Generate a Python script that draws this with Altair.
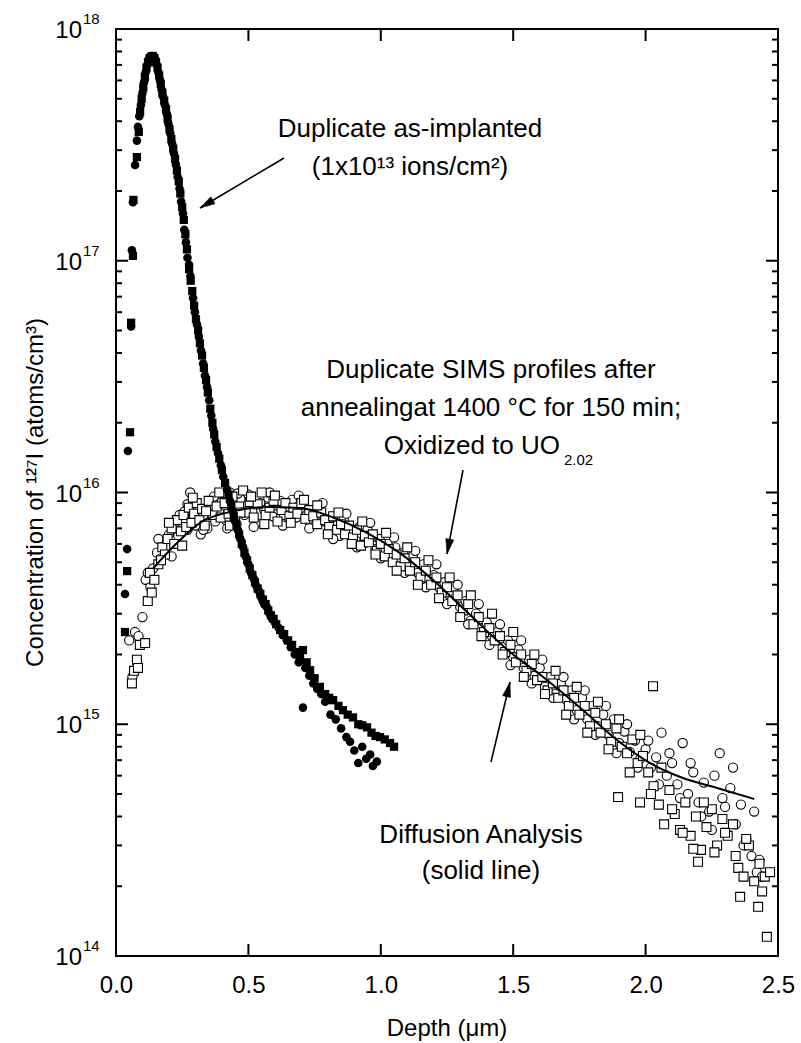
import math
import altair as alt
import pandas as pd

FONT = "Liberation Sans"
W, H = 662, 927

# ---------------- data ----------------
# As-implanted, filled circles
imp_c_depth = [0.034, 0.042, 0.045, 0.057, 0.060, 0.064, 0.072, 0.079, 0.083, 0.088, 0.094, 0.100,
               0.106, 0.112, 0.118, 0.124, 0.130, 0.136, 0.142, 0.148, 0.154, 0.160, 0.166, 0.172,
               0.178, 0.185, 0.192, 0.198, 0.205, 0.212, 0.219, 0.226, 0.233, 0.240, 0.246, 0.253,
               0.258, 0.264, 0.270, 0.276, 0.281, 0.291, 0.298, 0.306, 0.313, 0.321, 0.329, 0.336,
               0.344, 0.352, 0.360, 0.367, 0.375, 0.385, 0.396, 0.405, 0.419, 0.430, 0.440, 0.450,
               0.460, 0.470, 0.480, 0.490, 0.500, 0.510, 0.520, 0.530, 0.540, 0.550, 0.560, 0.570,
               0.580, 0.590, 0.600, 0.615, 0.630, 0.645, 0.660, 0.675, 0.690, 0.706, 0.715, 0.730,
               0.745, 0.760, 0.775, 0.790, 0.810, 0.830, 0.850, 0.870, 0.884, 0.900, 0.915, 0.930,
               0.945, 0.960, 0.970, 0.985]
imp_c_conc = [3.65e15, 5.7e15, 1.51e16, 5.2e16, 1.11e17, 1.79e17, 2.59e17, 3.3e17, 3.78e17, 4.2e17, 4.7e17, 5.3e17,
              5.9e17, 6.5e17, 7.0e17, 7.4e17, 7.6e17, 7.65e17, 7.6e17, 7.4e17, 7.0e17, 6.5e17, 6.0e17, 5.5e17,
              5.1e17, 4.7e17, 4.3e17, 3.9e17, 3.55e17, 3.2e17, 2.9e17, 2.6e17, 2.3e17, 2.05e17, 1.8e17, 1.6e17,
              1.36e17, 1.2e17, 1.03e17, 9.6e16, 8.6e16, 6.9e16, 6.0e16, 5.3e16, 4.7e16, 4.1e16, 3.6e16, 3.2e16,
              2.85e16, 2.5e16, 2.15e16, 1.88e16, 1.66e16, 1.48e16, 1.31e16, 1.17e16, 1.03e16, 9.2e15, 8.3e15, 7.5e15,
              6.9e15, 6.3e15, 5.8e15, 5.3e15, 4.9e15, 4.5e15, 4.25e15, 3.95e15, 3.75e15, 3.5e15, 3.3e15, 3.2e15,
              3.0e15, 2.85e15, 2.75e15, 2.6e15, 2.42e15, 2.3e15, 2.15e15, 2.0e15, 1.85e15, 1.18e15, 1.75e15, 1.62e15,
              1.5e15, 1.42e15, 1.35e15, 1.25e15, 1.1e15, 1.05e15, 9.6e14, 8.8e14, 8.4e14, 7.7e14, 6.8e14, 8.0e14,
              7.1e14, 7.4e14, 6.6e14, 6.9e14]

# As-implanted, filled squares
imp_s_depth = [0.034, 0.042, 0.053, 0.057, 0.064, 0.066, 0.079, 0.086, 0.091, 0.097, 0.103, 0.109,
               0.115, 0.121, 0.127, 0.133, 0.139, 0.145, 0.151, 0.157, 0.163, 0.169, 0.175, 0.182,
               0.189, 0.195, 0.202, 0.209, 0.216, 0.223, 0.230, 0.237, 0.243, 0.250, 0.256, 0.262,
               0.268, 0.276, 0.282, 0.288, 0.295, 0.302, 0.310, 0.317, 0.325, 0.332, 0.340, 0.347,
               0.356, 0.364, 0.371, 0.380, 0.390, 0.400, 0.412, 0.425, 0.435, 0.445, 0.455, 0.465,
               0.475, 0.485, 0.495, 0.505, 0.515, 0.525, 0.535, 0.545, 0.555, 0.565, 0.575, 0.585,
               0.595, 0.605, 0.620, 0.635, 0.650, 0.665, 0.680, 0.695, 0.706, 0.720, 0.733, 0.750,
               0.770, 0.790, 0.805, 0.820, 0.840, 0.857, 0.875, 0.895, 0.915, 0.930, 0.948, 0.965,
               0.980, 0.997, 1.015, 1.035, 1.050]
imp_s_conc = [2.5e15, 4.58e15, 1.82e16, 5.4e16, 1.05e17, 1.83e17, 2.8e17, 3.6e17, 4.4e17, 5.0e17, 5.6e17, 6.2e17,
              6.8e17, 7.2e17, 7.5e17, 7.6e17, 7.65e17, 7.5e17, 7.2e17, 6.8e17, 6.3e17, 5.8e17, 5.3e17, 4.9e17,
              4.5e17, 4.1e17, 3.7e17, 3.35e17, 3.05e17, 2.75e17, 2.45e17, 2.2e17, 1.95e17, 1.7e17, 1.5e17, 1.3e17,
              1.12e17, 9.2e16, 8.2e16, 7.4e16, 6.4e16, 5.6e16, 5.0e16, 4.4e16, 3.9e16, 3.45e16, 3.05e16, 2.7e16,
              2.3e16, 2.0e16, 1.78e16, 1.57e16, 1.4e16, 1.25e16, 1.1e16, 9.8e15, 8.7e15, 7.9e15, 7.2e15, 6.6e15,
              6.0e15, 5.5e15, 5.1e15, 4.7e15, 4.4e15, 4.1e15, 3.85e15, 3.65e15, 3.45e15, 3.3e15, 3.1e15, 2.95e15,
              2.85e15, 2.7e15, 2.55e15, 2.45e15, 2.3e15, 2.2e15, 2.05e15, 1.95e15, 2.09e15, 1.85e15, 1.71e15, 1.58e15,
              1.45e15, 1.35e15, 1.3e15, 1.27e15, 1.2e15, 1.15e15, 1.1e15, 1.07e15, 1.0e15, 9.9e14, 9.7e14, 9.2e14,
              8.9e14, 8.8e14, 8.6e14, 8.3e14, 8.0e14]

# Annealed, open circles
ann_c_depth = [0.050, 0.062, 0.072, 0.085, 0.100, 0.112, 0.120, 0.130, 0.140, 0.155, 0.170, 0.180,
               0.190, 0.200, 0.215, 0.225, 0.235, 0.250, 0.260, 0.270, 0.280, 0.290, 0.300, 0.310,
               0.320, 0.330, 0.345, 0.360, 0.375, 0.390, 0.400, 0.415, 0.430, 0.440, 0.455, 0.470,
               0.485, 0.500, 0.515, 0.530, 0.545, 0.560, 0.575, 0.590, 0.605, 0.620, 0.635, 0.650,
               0.665, 0.680, 0.695, 0.710, 0.725, 0.740, 0.755, 0.770, 0.785, 0.800, 0.815, 0.830,
               0.845, 0.860, 0.875, 0.890, 0.905, 0.920, 0.935, 0.950, 0.965, 0.980, 0.995, 1.010,
               1.025, 1.040, 1.055, 1.070, 1.085, 1.100, 1.120, 1.140, 1.160, 1.180, 1.200, 1.220,
               1.240, 1.260, 1.280, 1.300, 1.320, 1.340, 1.360, 1.380, 1.400, 1.420, 1.440, 1.460,
               1.480, 1.500, 1.520, 1.540, 1.560, 1.580, 1.600, 1.620, 1.640, 1.660, 1.680, 1.700,
               1.720, 1.740, 1.760, 1.780, 1.800, 1.820, 1.840, 1.860, 1.880, 1.900, 1.920, 1.940,
               1.960, 1.980, 2.000, 2.020, 2.040, 2.060, 2.080, 2.100, 2.120, 2.140, 2.160, 2.180,
               2.200, 2.220, 2.240, 2.260, 2.280, 2.300, 2.320, 2.340, 2.360, 2.380, 2.400, 2.420,
               2.440,
               0.16, 0.21, 0.24, 0.27, 0.33, 0.37, 0.42, 0.46, 0.52, 0.58, 0.63, 0.69,
               0.73, 0.78, 0.82, 0.87, 0.91, 0.96, 1.00, 1.05, 1.09, 1.13, 1.17, 1.21,
               1.25, 1.29, 1.33, 1.37, 1.41, 1.45, 1.49, 1.53, 1.57, 1.61, 1.65, 1.69,
               1.73, 1.77, 1.81, 1.85, 1.89, 1.93, 1.97, 2.01, 2.05, 2.09, 2.13, 2.17,
               2.21, 2.25, 2.29, 2.33, 2.37, 2.41, 2.43]
ann_c_conc = [2.3e15, 1.6e15, 2.5e15, 2.4e15, 2.9e15, 4.2e15, 4.5e15, 3.9e15, 4.7e15, 5.5e15, 5.2e15, 6.1e15,
              5.8e15, 6.6e15, 6.2e15, 7.4e15, 6.5e15, 7.0e15, 8.3e15, 6.9e15, 1.0e16, 7.8e15, 7.2e15, 8.4e15,
              6.6e15, 8.0e15, 7.0e15, 8.8e15, 7.5e15, 8.2e15, 9.1e15, 7.6e15, 1.0e16, 8.5e15, 7.3e15, 9.4e15,
              8.0e15, 9.8e15, 8.3e15, 7.4e15, 9.0e15, 8.4e15, 9.5e15, 7.9e15, 8.8e15, 9.2e15, 8.0e15, 8.7e15,
              9.3e15, 7.8e15, 8.5e15, 8.9e15, 7.6e15, 8.3e15, 8.0e15, 8.6e15, 7.5e15, 6.7e15, 7.8e15, 7.2e15,
              6.5e15, 7.6e15, 7.0e15, 6.8e15, 6.2e15, 7.1e15, 6.0e15, 6.9e15, 6.4e15, 5.7e15, 6.3e15, 5.5e15,
              6.0e15, 5.3e15, 5.8e15, 5.0e15, 5.5e15, 4.8e15, 5.3e15, 4.5e15, 4.9e15, 4.2e15, 4.4e15, 3.9e15,
              4.1e15, 3.6e15, 3.5e15, 3.2e15, 3.4e15, 2.8e15, 3.0e15, 2.6e15, 2.75e15, 2.4e15, 2.5e15, 2.15e15,
              2.3e15, 1.95e15, 2.1e15, 1.75e15, 1.9e15, 1.62e15, 1.75e15, 1.45e15, 1.6e15, 1.35e15, 1.5e15, 1.28e15,
              1.4e15, 1.15e15, 1.3e15, 1.05e15, 1.2e15, 9.8e14, 1.1e15, 9.0e14, 1.05e15, 8.3e14, 9.3e14, 7.6e14,
              8.5e14, 7.1e14, 7.8e14, 6.5e14, 7.2e14, 9.2e14, 6.0e14, 6.8e14, 5.5e14, 8.3e14, 5.0e14, 6.2e14,
              4.6e14, 5.6e14, 4.2e14, 6.0e14, 7.5e14, 4.4e14, 5.3e14, 3.7e14, 4.5e14, 3.2e14, 2.7e14, 2.3e14,
              2.2e14,
              6.3e15, 5.3e15, 8.0e15, 8.9e15, 6.9e15, 9.6e15, 7.0e15, 9.9e15, 7.1e15, 1.0e16, 7.2e15, 9.7e15,
              7.0e15, 9.0e15, 6.3e15, 8.1e15, 5.8e15, 7.4e15, 5.2e15, 6.4e15, 4.5e15, 5.6e15, 3.9e15, 4.9e15,
              3.3e15, 4.0e15, 2.7e15, 3.3e15, 2.2e15, 2.7e15, 1.8e15, 2.3e15, 1.5e15, 1.9e15, 1.3e15, 1.6e15,
              1.05e15, 1.4e15, 9.0e14, 1.2e15, 7.5e14, 1.0e15, 6.5e14, 8.5e14, 5.5e14, 7.5e14, 4.8e14, 6.8e14,
              4.0e14, 3.5e14, 4.8e14, 6.5e14, 3.0e14, 4.2e14, 2.6e14]

# Annealed, open squares
ann_s_depth = [0.060, 0.068, 0.079, 0.083, 0.090, 0.110, 0.120, 0.128, 0.135, 0.145, 0.160, 0.175,
               0.185, 0.195, 0.210, 0.220, 0.230, 0.245, 0.255, 0.265, 0.275, 0.285, 0.295, 0.305,
               0.315, 0.325, 0.335, 0.350, 0.365, 0.380, 0.395, 0.410, 0.425, 0.440, 0.450, 0.465,
               0.480, 0.490, 0.505, 0.520, 0.535, 0.550, 0.565, 0.580, 0.595, 0.610, 0.625, 0.640,
               0.655, 0.670, 0.685, 0.700, 0.715, 0.730, 0.745, 0.760, 0.775, 0.790, 0.805, 0.820,
               0.835, 0.850, 0.865, 0.880, 0.895, 0.910, 0.925, 0.940, 0.955, 0.970, 0.985, 1.000,
               1.015, 1.030, 1.045, 1.060, 1.075, 1.090, 1.110, 1.130, 1.150, 1.170, 1.190, 1.210,
               1.230, 1.250, 1.270, 1.290, 1.310, 1.330, 1.350, 1.370, 1.390, 1.410, 1.430, 1.450,
               1.470, 1.490, 1.510, 1.530, 1.550, 1.570, 1.590, 1.610, 1.630, 1.650, 1.670, 1.690,
               1.710, 1.730, 1.750, 1.770, 1.790, 1.810, 1.830, 1.850, 1.870, 1.890, 1.896, 1.910,
               1.930, 1.950, 1.970, 1.979, 1.990, 2.010, 2.028, 2.030, 2.050, 2.070, 2.090, 2.110,
               2.130, 2.150, 2.170, 2.190, 2.198, 2.209, 2.230, 2.250, 2.270, 2.290, 2.310, 2.330,
               2.350, 2.357, 2.370, 2.390, 2.410, 2.425, 2.430, 2.450, 2.458, 2.470,
               0.17, 0.20, 0.25, 0.29, 0.34, 0.39, 0.43, 0.47, 0.51, 0.56, 0.60, 0.66,
               0.71, 0.76, 0.80, 0.84, 0.89, 0.93, 0.98, 1.02, 1.06, 1.10, 1.14, 1.18,
               1.22, 1.26, 1.30, 1.34, 1.38, 1.42, 1.46, 1.50, 1.54, 1.58, 1.62, 1.66,
               1.70, 1.74, 1.78, 1.82, 1.86, 1.90, 1.94, 1.98, 2.02, 2.06, 2.10, 2.14,
               2.18, 2.22, 2.26, 2.30, 2.34, 2.38, 2.44]
ann_s_conc = [1.5e15, 1.7e15, 1.9e15, 1.75e15, 2.2e15, 2.24e15, 3.4e15, 4.5e15, 3.7e15, 4.2e15, 4.9e15, 5.8e15,
              5.4e15, 6.3e15, 7.0e15, 6.0e15, 7.6e15, 6.8e15, 8.0e15, 7.1e15, 8.6e15, 7.4e15, 8.1e15, 9.0e15,
              7.6e15, 8.5e15, 7.2e15, 9.2e15, 8.0e15, 8.7e15, 7.8e15, 9.0e15, 8.1e15, 9.6e15, 7.6e15, 8.7e15,
              1.02e16, 8.2e15, 9.1e15, 7.8e15, 8.9e15, 1.0e16, 8.0e15, 8.6e15, 9.2e15, 7.5e15, 8.4e15, 9.0e15,
              7.9e15, 8.6e15, 8.1e15, 9.0e15, 7.7e15, 8.4e15, 7.9e15, 7.3e15, 8.2e15, 7.6e15, 7.1e15, 7.9e15,
              6.9e15, 7.3e15, 6.6e15, 7.2e15, 6.4e15, 6.9e15, 5.9e15, 6.5e15, 6.1e15, 6.6e15, 5.6e15, 6.0e15,
              5.3e15, 5.7e15, 5.0e15, 5.4e15, 4.8e15, 5.2e15, 4.6e15, 5.0e15, 4.3e15, 4.6e15, 4.0e15, 4.3e15,
              3.7e15, 3.9e15, 3.4e15, 3.6e15, 3.1e15, 3.3e15, 2.7e15, 2.9e15, 2.5e15, 2.6e15, 2.3e15, 2.4e15,
              2.05e15, 2.2e15, 1.85e15, 2.0e15, 1.7e15, 1.82e15, 1.55e15, 1.6e15, 1.4e15, 1.5e15, 1.3e15, 1.4e15,
              1.2e15, 1.3e15, 1.1e15, 1.2e15, 9.8e14, 1.12e15, 9.2e14, 1.0e15, 8.4e14, 9.6e14, 4.85e14, 8.0e14,
              7.5e14, 8.6e14, 6.8e14, 4.6e14, 7.3e14, 6.2e14, 1.46e15, 5.4e14, 4.5e14, 3.7e14, 5.2e14, 4.1e14,
              3.5e14, 4.6e14, 3.3e14, 4.0e14, 2.55e14, 2.87e14, 3.6e14, 4.3e14, 3.0e14, 3.9e14, 3.3e14, 3.7e14,
              2.4e14, 1.8e14, 2.2e14, 3.0e14, 2.1e14, 1.63e14, 2.5e14, 2.2e14, 1.21e14, 2.3e14,
              5.1e15, 7.4e15, 5.9e15, 9.5e15, 8.3e15, 1.0e16, 7.2e15, 8.2e15, 9.6e15, 7.3e15, 9.7e15, 7.4e15,
              9.3e15, 8.8e15, 6.6e15, 8.2e15, 6.0e15, 7.5e15, 5.4e15, 6.7e15, 4.6e15, 5.8e15, 4.0e15, 5.1e15,
              3.5e15, 4.3e15, 2.9e15, 3.6e15, 2.4e15, 3.0e15, 2.0e15, 2.5e15, 1.6e15, 2.0e15, 1.35e15, 1.7e15,
              1.1e15, 1.45e15, 9.2e14, 1.25e15, 7.8e14, 1.05e15, 6.2e14, 9.0e14, 5.0e14, 6.5e14, 4.3e14, 3.4e14,
              2.9e14, 4.6e14, 2.8e14, 3.4e14, 2.7e14, 3.2e14, 1.9e14]

# Diffusion-analysis fit (solid line)
fit_depth = [0.14, 0.23, 0.317, 0.442, 0.57, 0.695, 0.82, 0.948, 1.07, 1.197, 1.326, 1.488,
             1.613, 1.764, 1.892, 2.017, 2.141, 2.27, 2.41]
fit_conc = [4.7e15, 6.05e15, 7.4e15, 8.3e15, 8.65e15, 8.57e15, 7.8e15, 6.7e15, 5.5e15, 4.19e15, 3.05e15, 2.05e15,
            1.6e15, 1.15e15, 8.55e14, 6.8e14, 5.86e14, 5.31e14, 4.76e14]

# Axis ticks / labels
x_tick_labels = [0.0, 0.5, 1.0, 1.5, 2.0, 2.5]
x_inner_ticks = [0.5, 1.0, 1.5, 2.0]
y_major = [1e14, 1e15, 1e16, 1e17, 1e18]
y_major_exp = ["14", "15", "16", "17", "18"]
y_minor = [2e14, 3e14, 4e14, 5e14, 6e14, 7e14, 8e14, 9e14,
           2e15, 3e15, 4e15, 5e15, 6e15, 7e15, 8e15, 9e15,
           2e16, 3e16, 4e16, 5e16, 6e16, 7e16, 8e16, 9e16,
           2e17, 3e17, 4e17, 5e17, 6e17, 7e17, 8e17, 9e17]

# ---------------- chart ----------------
xs = alt.Scale(domain=[0, 2.5], nice=False, zero=False)
ys = alt.Scale(type="log", domain=[1e14, 1e18], nice=False)
xaxis = alt.Axis(values=x_tick_labels, format=".1f", ticks=False, domain=False, grid=False,
                 title=None, labelFont=FONT, labelFontSize=24, labelColor="black",
                 labelPadding=17, labelFlush=False, labelOverlap=False)


def X(field="d"):
    return alt.X(field, type="quantitative", scale=xs, axis=xaxis)


def Y(field="c"):
    return alt.Y(field, type="quantitative", scale=ys, axis=None)


def df(d, c):
    return pd.DataFrame({"d": d, "c": c})


dummy = pd.DataFrame({"a": [0]})

ann_c = alt.Chart(df(ann_c_depth, ann_c_conc)).mark_point(
    shape="circle", size=85, filled=True, fill="white", stroke="black", strokeWidth=1.1, opacity=1
).encode(x=X(), y=Y())
ann_s = alt.Chart(df(ann_s_depth, ann_s_conc)).mark_point(
    shape="square", size=80, filled=True, fill="white", stroke="black", strokeWidth=1.1, opacity=1
).encode(x=X(), y=Y())
fit = alt.Chart(df(fit_depth, fit_conc)).mark_line(
    color="black", strokeWidth=2, interpolate="monotone"
).encode(x=X(), y=Y())
imp_c = alt.Chart(df(imp_c_depth, imp_c_conc)).mark_point(
    shape="circle", size=74, filled=True, color="black", opacity=1
).encode(x=X(), y=Y())
imp_s = alt.Chart(df(imp_s_depth, imp_s_conc)).mark_point(
    shape="square", size=68, filled=True, color="black", opacity=1
).encode(x=X(), y=Y())

ymaj_df = pd.DataFrame({"v": y_major, "e": y_major_exp, "b": ["10"] * len(y_major)})
ymin_df = pd.DataFrame({"v": y_minor})
xin_df = pd.DataFrame({"t": x_inner_ticks})

tick_style = dict(color="black", strokeWidth=2)
ticks = [
    alt.Chart(ymaj_df).mark_rule(**tick_style).encode(x=alt.value(0), x2=alt.value(12), y=Y("v")),
    alt.Chart(ymaj_df).mark_rule(**tick_style).encode(x=alt.value(W - 12), x2=alt.value(W), y=Y("v")),
    alt.Chart(ymin_df).mark_rule(**tick_style).encode(x=alt.value(0), x2=alt.value(6), y=Y("v")),
    alt.Chart(ymin_df).mark_rule(**tick_style).encode(x=alt.value(W - 6), x2=alt.value(W), y=Y("v")),
    alt.Chart(xin_df).mark_rule(**tick_style).encode(x=X("t"), y=alt.value(H - 12), y2=alt.value(H)),
    alt.Chart(xin_df).mark_rule(**tick_style).encode(x=X("t"), y=alt.value(0), y2=alt.value(12)),
]

ylab_base = alt.Chart(ymaj_df).mark_text(
    font=FONT, fontSize=24, align="right", baseline="alphabetic", dy=9, color="black"
).encode(x=alt.value(-34), y=Y("v"), text="b:N")
ylab_exp = alt.Chart(ymaj_df).mark_text(
    font=FONT, fontSize=15, align="left", baseline="alphabetic", dy=-5, color="black"
).encode(x=alt.value(-33), y=Y("v"), text="e:N")


def txt(s, x, y, size=26, align="center"):
    return alt.Chart(dummy).mark_text(
        font=FONT, fontSize=size, align=align, baseline="alphabetic", color="black"
    ).encode(x=alt.value(x), y=alt.value(y), text=alt.value(s))


def arrow(x1, y1, x2, y2):
    ang = math.degrees(math.atan2(x2 - x1, -(y2 - y1))) % 360
    line = alt.Chart(dummy).mark_rule(color="black", strokeWidth=1.6).encode(
        x=alt.value(x1), y=alt.value(y1), x2=alt.value(x2), y2=alt.value(y2))
    head = alt.Chart(dummy).mark_point(
        shape="M0,0L0.27,1L-0.27,1Z", size=900, filled=True, fill="black",
        stroke="black", strokeWidth=0.5, opacity=1, angle=ang
    ).encode(x=alt.value(x2), y=alt.value(y2))
    return [line, head]


annotations = [
    txt("Duplicate as-implanted", 294, 108),
    txt("(1x10\u00b9\u00b3 ions/cm\u00b2)", 294, 146),
    txt("Duplicate SIMS profiles after", 375, 349),
    txt("annealingat 1400 \u00b0C for 150 min;", 375, 387),
    txt("Oxidized to UO", 444, 425, align="right"),
    txt("2.02", 448, 436, size=15, align="left"),
    txt("Diffusion Analysis", 365, 814),
    txt("(solid line)", 365, 850),
    txt("Depth (\u03bcm)", W / 2, 1007, size=24),
    alt.Chart(dummy).mark_text(
        font=FONT, fontSize=24, align="center", baseline="middle", angle=270, color="black"
    ).encode(x=alt.value(-80), y=alt.value(H / 2),
             text=alt.value("Concentration of \u00b9\u00b2\u2077I (atoms/cm\u00b3)")),
]
annotations += arrow(168, 129, 84, 179)
annotations += arrow(347, 441, 331, 525)
annotations += arrow(375, 733, 394, 653)

chart = alt.layer(
    ann_c, ann_s, fit, imp_c, imp_s, *ticks, ylab_base, ylab_exp, *annotations
).properties(
    width=W, height=H,
    autosize=alt.AutoSizeParams(type="none"),
    padding={"left": 116, "top": 29, "right": 23, "bottom": 87},
    background="white",
).configure_view(stroke="black", strokeWidth=2)

chart.save("out.html", embed_options={"renderer": "svg", "actions": False})
